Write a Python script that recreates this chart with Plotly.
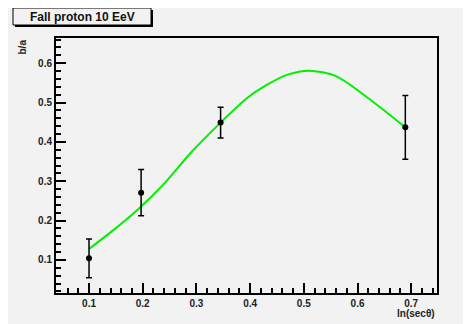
import plotly.graph_objects as go

# data points
x_pts = [0.1, 0.197, 0.345, 0.689]
y_pts = [0.104, 0.271, 0.449, 0.437]
y_err = [0.049, 0.059, 0.039, 0.081]

# fitted curve
x_fit = [0.1, 0.14, 0.19, 0.24, 0.29, 0.345, 0.395, 0.43, 0.47, 0.51, 0.56, 0.62, 0.655, 0.689]
y_fit = [0.128, 0.170, 0.227, 0.294, 0.373, 0.449, 0.512, 0.544, 0.571, 0.581, 0.567, 0.511, 0.474, 0.437]

title_text = "Fall proton 10 EeV"
x_title = "ln(secθ)"
y_title = "b/a"

# page has an 8px body margin; work in reference pixel coords and shift
OFF = 8
W, H = 471 - OFF, 324 - OFF
L, R, T, B = 56, 437, 38, 293  # plot frame in reference pixels
ML, MR, MT, MB = L - OFF, W - (R - OFF), T - OFF, H - (B - OFF)
PW, PH = W - ML - MR, H - MT - MB

def px(xp):
    return (xp - OFF - ML) / PW

def py(yp):
    return 1 - (yp - OFF - MT) / PH

fig = go.Figure()
fig.add_trace(go.Scatter(x=x_fit, y=y_fit, mode="lines", line=dict(color="#00f000", width=2, shape="spline", smoothing=0.8),
                         showlegend=False, hoverinfo="skip"))
fig.add_trace(go.Scatter(x=x_pts, y=y_pts, mode="markers",
                         marker=dict(color="black", size=6),
                         error_y=dict(type="data", array=y_err, color="black", thickness=1.5, width=3),
                         showlegend=False))

bg = "#f2f2f2"
fnt = dict(family="Liberation Sans, Arial, sans-serif", size=10, color="#222", weight="bold")

axis_common = dict(dtick=0.1, tick0=0, ticks="inside", ticklen=10, tickwidth=1.5,
                   tickcolor="black", showline=True, linecolor="black", linewidth=2, mirror=True,
                   showgrid=False, zeroline=False, tickfont=fnt, tickformat=".1f",
                   minor=dict(dtick=0.02, tick0=0, ticks="inside", ticklen=5, tickwidth=1.5,
                              tickcolor="black", showgrid=False))

fig.update_layout(
    width=W, height=H,
    margin=dict(l=ML, r=MR, t=MT, b=MB, autoexpand=False),
    paper_bgcolor=bg, plot_bgcolor=bg,
    xaxis=dict(range=[0.0385, 0.748], **axis_common),
    yaxis=dict(range=[0.016, 0.664], **axis_common),
    shapes=[
        # title box shadow and box
        dict(type="rect", xref="paper", yref="paper", x0=px(15), x1=px(153), y0=py(10), y1=py(27),
             fillcolor="black", line=dict(width=0), layer="above"),
        dict(type="rect", xref="paper", yref="paper", x0=px(13), x1=px(151), y0=py(8), y1=py(25),
             fillcolor=bg, line=dict(color="black", width=1), layer="above"),
    ],
    annotations=[
        dict(text=title_text, xref="paper", yref="paper", x=px(82), y=py(16.5), showarrow=False,
             xanchor="center", yanchor="middle",
             font=dict(family="Liberation Sans, Arial, sans-serif", size=12, color="#111", weight="bold")),
        dict(text=y_title, xref="paper", yref="paper", x=px(22), y=py(38), showarrow=False, textangle=-90,
             xanchor="center", yanchor="top", font=fnt),
        dict(text=x_title, xref="paper", yref="paper", x=px(437), y=py(313), showarrow=False,
             xanchor="right", yanchor="middle", font=fnt),
    ],
)

fig.write_html("out.html")
